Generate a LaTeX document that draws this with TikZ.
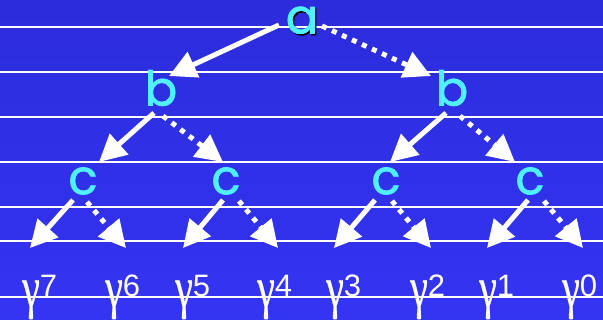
\documentclass[tikz,border=0pt]{standalone}
\usepackage{graphicx}
\usepackage{fontspec}
\newfontfamily\letfont[FakeBold=1.5]{Poppins}
\newfontfamily\gamfont[FakeBold=0.6]{Liberation Serif}
\newfontfamily\digfont{Liberation Sans}
\usetikzlibrary{arrows.meta,calc}
\definecolor{bgtop}{RGB}{44,44,220}
\definecolor{bgbot}{RGB}{52,52,243}
\definecolor{letcyan}{RGB}{80,240,255}
\newcommand{\gpow}[1]{{\gamfont\scalebox{0.8}[1.15]{γ}}\raisebox{10pt}{\digfont\fontsize{31}{31}\selectfont #1}}

\begin{document}
\begin{tikzpicture}[
x=1pt, y=-1pt,
let/.style={text=letcyan, font=\letfont\fontsize{48}{48}\selectfont, inner sep=0pt},
gam/.style={text=white, font=\fontsize{50}{50}\selectfont, inner sep=0pt, anchor=base west},
rule/.style={draw=white, line width=1.5pt},
solidarr/.style={draw=white, line width=5pt, -{Triangle[length=27pt,width=27pt]}},
dotarr/.style={solidarr, dash pattern=on 5pt off 6pt}
]
\useasboundingbox (0,0) rectangle (603,320);
\shade[top color=bgtop, bottom color=bgbot] (0,0) rectangle (603,320);
\foreach \y in {27,72,117,162,207,241,297}
  \draw[rule] (0,\y) -- (603,\y);

\node[let] (a) at (302,21) {\makebox[0pt][l]{\hspace{1.5pt}\raisebox{-1.5pt}{\color{black}a}}a};
\node[let] (bl) at (161,88) {b};
\node[let] (br) at (452,88) {b};
\node[let] (c1) at (83,181) {c};
\node[let] (c2) at (226,181) {c};
\node[let] (c3) at (386,181) {c};
\node[let] (c4) at (530,181) {c};

\node[gam] (g7) at (22,307) {\gpow{7}};
\node[gam] (g6) at (105,307) {\gpow{6}};
\node[gam] (g5) at (175,307) {\gpow{5}};
\node[gam] (g4) at (257,307) {\gpow{4}};
\node[gam] (g3) at (326,307) {\gpow{3}};
\node[gam] (g2) at (410,307) {\gpow{2}};
\node[gam] (g1) at (479,307) {\gpow{1}};
\node[gam] (g0) at (562,307) {\gpow{0}};

\draw[solidarr] ($(a)+(-23,4)$) -- ($(bl)+(8,-12)$);
\draw[dotarr] ($(a)+(20,5)$) -- ($(br)+(-21,-12)$);
\draw[solidarr] ($(bl)+(-7,25)$) -- ($(c1)+(16,-19)$);
\draw[dotarr] ($(bl)+(2,28)$) -- ($(c2)+(-3,-19)$);
\draw[solidarr] ($(br)+(-6,25)$) -- ($(c3)+(4,-19)$);
\draw[dotarr] ($(br)+(8,28)$) -- ($(c4)+(-15,-19)$);
\draw[solidarr] ($(c1)+(-10,19)$) -- ($(g7.base west)+(8,-59)$);
\draw[dotarr] ($(c1)+(4,21)$) -- ($(g6.base west)+(21,-59)$);
\draw[solidarr] ($(c2)+(-3,19)$) -- ($(g5.base west)+(8,-59)$);
\draw[dotarr] ($(c2)+(13,20)$) -- ($(g4.base west)+(21,-59)$);
\draw[solidarr] ($(c3)+(-11,19)$) -- ($(g3.base west)+(8,-59)$);
\draw[dotarr] ($(c3)+(6,20)$) -- ($(g2.base west)+(21,-59)$);
\draw[solidarr] ($(c4)+(-2,19)$) -- ($(g1.base west)+(8,-59)$);
\draw[dotarr] ($(c4)+(14,20)$) -- ($(g0.base west)+(21,-59)$);
\end{tikzpicture}
\end{document}
